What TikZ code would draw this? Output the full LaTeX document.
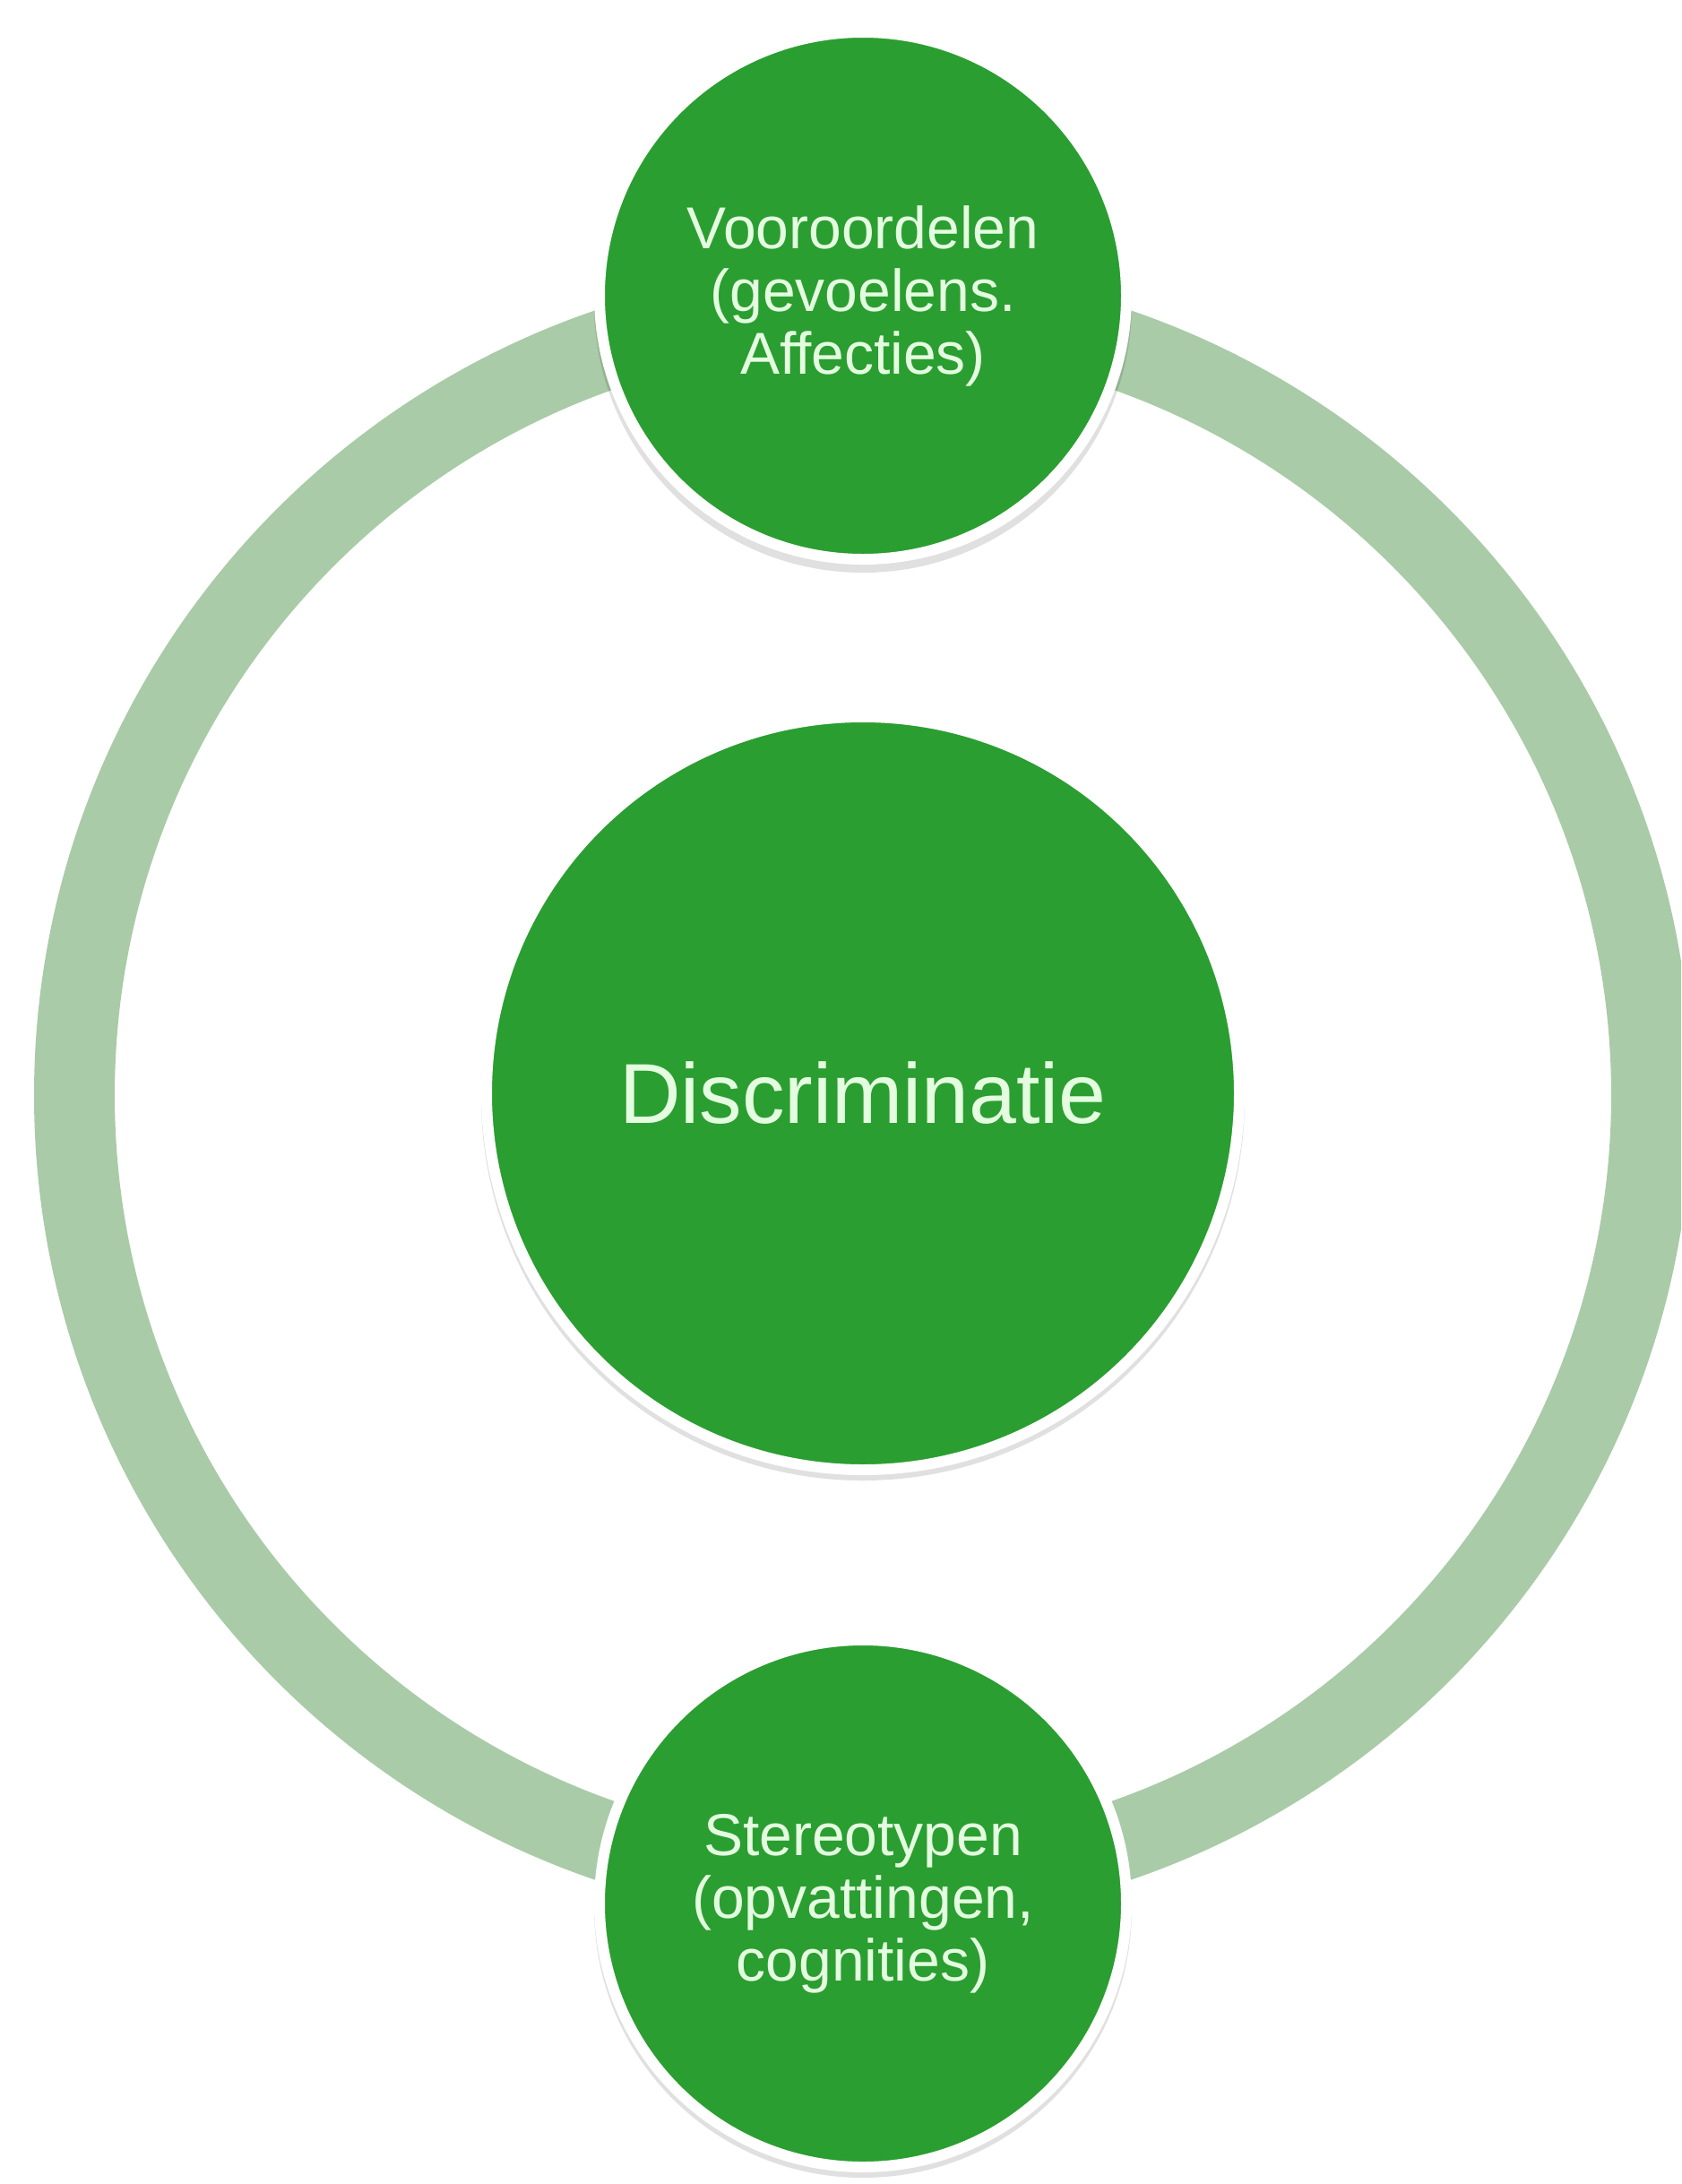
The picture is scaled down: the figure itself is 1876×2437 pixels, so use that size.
\documentclass[tikz,border=0pt]{standalone}
\usepackage{fontspec}
\setmainfont{Liberation Sans}
\definecolor{bubblegreen}{HTML}{2A9E30}
\definecolor{ringgreen}{HTML}{A9CBA7}
\definecolor{bubbletext}{HTML}{E4FCE0}
\tikzset{
  bubble/.style={circle, fill=bubblegreen, draw=white, line width=6pt,
    text=bubbletext, align=center, inner sep=0pt},
  smalltext/.style={font=\fontsize{33}{35}\selectfont},
  bigtext/.style={font=\fontsize{47.5}{50}\selectfont},
  bubbleshadow/.style={circle, fill=black, opacity=0.12, inner sep=0pt},
  ringpath/.style={draw=ringgreen, line width=45pt}
}
\begin{document}
\begin{tikzpicture}[x=0.5pt,y=-0.5pt]
  \useasboundingbox (0,0) rectangle (1876,2437);
  \clip (0,0) rectangle (1876,2437);
  \fill[white] (0,0) rectangle (1876,2437);
  % ring
  \coordinate (ringc) at (963,1222);
  \draw[ringpath] (ringc) circle[radius=880];
  % shadows
  \node[bubbleshadow, minimum size=300pt] at (963,339) {};
  \node[bubbleshadow, minimum size=426pt] at (963,1226) {};
  \node[bubbleshadow, minimum size=300pt] at (963,2130) {};
  % bubbles
  \node[bubble, smalltext, minimum size=294pt] (pre) at (963,330)
    {Vooroordelen\\(gevoelens.\\Affecties)};
  \node[bubble, bigtext, minimum size=420pt] (disc) at (963,1220)
    {Discriminatie};
  \node[bubble, smalltext, minimum size=294pt] (ster) at (963,2124)
    {Stereotypen\\(opvattingen,\\cognities)};
\end{tikzpicture}
\end{document}
